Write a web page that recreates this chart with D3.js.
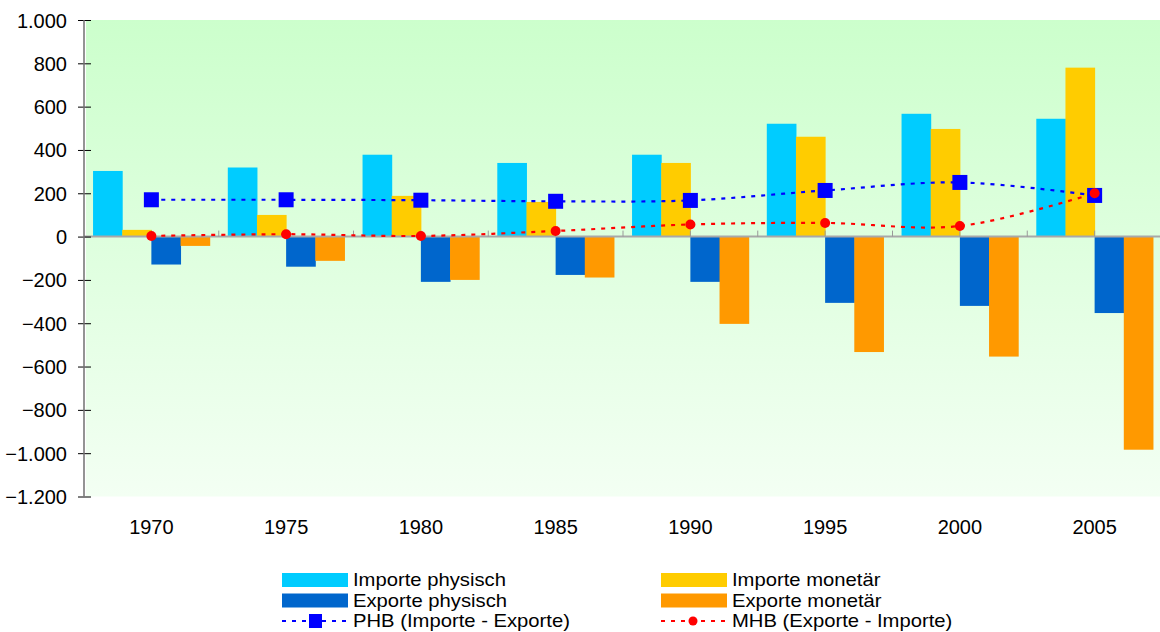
<!DOCTYPE html>
<html>
<head>
<meta charset="utf-8">
<script src="https://cdn.jsdelivr.net/npm/d3@7"></script>
<style>
  html, body { margin: 0; padding: 0; background: #fff; }
  svg { display: block; font-family: "Liberation Sans", Arial, sans-serif; }
</style>
</head>
<body>
<svg id="chart" width="1160" height="632"></svg>
<script>
// Jahre (Kategorien)
const years = ["1970", "1975", "1980", "1985", "1990", "1995", "2000", "2005"];

// Balkenreihen
const importePhysisch = [303, 319, 378, 340, 378, 521, 567, 544];
const importeMonetaer = [31, 100, 188, 160, 340, 461, 497, 780];
const exportePhysisch = [-129, -139, -209, -177, -209, -306, -320, -353];
const exporteMonetaer = [-43, -112, -200, -189, -403, -533, -554, -984];

// Linienreihen (Bilanzen)
const phb = [170, 170, 168, 163, 167, 213, 250, 190];
const mhb = [3, 11, 3, 26, 56, 63, 49, 200];

// Achsenbeschriftungen der y-Achse
const yTicks = [1000, 800, 600, 400, 200, 0, -200, -400, -600, -800, -1000, -1200];

const barSeries = [
  { name: "Importe physisch", values: importePhysisch, color: "#00ccff" },
  { name: "Importe monetär", values: importeMonetaer, color: "#ffcc00" },
  { name: "Exporte physisch", values: exportePhysisch, color: "#0066cc" },
  { name: "Exporte monetär", values: exporteMonetaer, color: "#ff9900" }
];

const svg = d3.select("#chart");
const fmt = v => d3.format(",")(v).replace(/,/g, ".");

const plotLeft = 84, plotRight = 1162, plotTop = 20, plotBottom = 496.5;

const y = d3.scaleLinear().domain([-1200, 1000]).range([plotBottom, plotTop]);
const x0 = d3.scaleBand().domain(years).range([plotLeft, plotRight]).padding(0);
const x1 = d3.scaleBand().domain(barSeries.map(s => s.name))
  .range([0, x0.bandwidth()]).paddingInner(0).paddingOuter(0.31);

// Hintergrund mit Farbverlauf
const defs = svg.append("defs");
const grad = defs.append("linearGradient").attr("id", "bg").attr("x1", 0).attr("y1", 0).attr("x2", 0).attr("y2", 1);
grad.append("stop").attr("offset", "0%").attr("stop-color", "#ccffcc");
grad.append("stop").attr("offset", "100%").attr("stop-color", "#f3fff3");

svg.append("rect")
  .attr("x", plotLeft + 2).attr("y", plotTop)
  .attr("width", 1160 - plotLeft - 2).attr("height", plotBottom - plotTop)
  .attr("fill", "url(#bg)");

// Balken
const groups = svg.append("g").selectAll("g")
  .data(barSeries).join("g").attr("fill", d => d.color);

groups.selectAll("rect")
  .data(s => s.values.map((v, i) => ({ s, v, year: years[i] })))
  .join("rect")
  .attr("x", d => x0(d.year) + x1(d.s.name))
  .attr("width", x1.bandwidth() + 0.5)
  .attr("y", d => y(Math.max(0, d.v)))
  .attr("height", d => Math.abs(y(d.v) - y(0)));

// Nulllinie mit Kategorie-Teilstrichen
svg.append("line")
  .attr("x1", plotLeft).attr("x2", 1160)
  .attr("y1", y(0)).attr("y2", y(0))
  .attr("stroke", "#a8a8a8").attr("stroke-width", 2);

const catTicks = [];
years.forEach(yr => {
  catTicks.push(x0(yr) + x0.bandwidth());
  catTicks.push(x0(yr) + x0.bandwidth() / 2);
});
svg.append("g").selectAll("line")
  .data(catTicks.filter(t => t < 1160))
  .join("line")
  .attr("x1", d => d).attr("x2", d => d)
  .attr("y1", y(0) - 6).attr("y2", y(0))
  .attr("stroke", "#999").attr("stroke-width", 1);

// y-Achse
const yAxis = d3.axisLeft(y).tickValues(yTicks).tickFormat(fmt).tickSize(0).tickPadding(0);
const ya = svg.append("g").attr("transform", `translate(${plotLeft},0)`).call(yAxis);
ya.select(".domain").remove();
ya.selectAll(".tick text")
  .attr("x", -17).attr("dy", "0.35em")
  .attr("font-size", 20).attr("font-family", "Liberation Sans, Arial, sans-serif")
  .attr("fill", "#000");
ya.selectAll(".tick").append("line")
  .attr("x1", -6).attr("x2", 7).attr("stroke", "#000").attr("stroke-width", 1);
svg.append("line")
  .attr("x1", plotLeft).attr("x2", plotLeft)
  .attr("y1", plotTop).attr("y2", plotBottom)
  .attr("stroke", "#707070").attr("stroke-width", 1.5);

// x-Beschriftungen
const xAxis = d3.axisBottom(x0).tickSize(0).tickPadding(0);
const xa = svg.append("g").attr("transform", `translate(0,${plotBottom})`).call(xAxis);
xa.select(".domain").remove();
xa.selectAll(".tick text")
  .attr("y", 37).attr("dy", 0)
  .attr("font-size", 20).attr("font-family", "Liberation Sans, Arial, sans-serif")
  .attr("fill", "#000");

// Linien (geglättet, gestrichelt)
const cx = i => x0(years[i]) + x0.bandwidth() / 2;
const line = d3.line().x((d, i) => cx(i)).y(d => y(d)).curve(d3.curveCatmullRom.alpha(0.5));

svg.append("path").datum(phb).attr("d", line)
  .attr("fill", "none").attr("stroke", "#0000ff").attr("stroke-width", 2.2)
  .attr("stroke-dasharray", "4,6");
svg.append("path").datum(mhb).attr("d", line)
  .attr("fill", "none").attr("stroke", "#ff0000").attr("stroke-width", 2.2)
  .attr("stroke-dasharray", "4,6");

svg.append("g").selectAll("rect").data(phb).join("rect")
  .attr("x", (d, i) => cx(i) - 7.5).attr("y", d => y(d) - 7.5)
  .attr("width", 15).attr("height", 15).attr("fill", "#0000ff");
svg.append("g").selectAll("circle").data(mhb).join("circle")
  .attr("cx", (d, i) => cx(i)).attr("cy", d => y(d)).attr("r", 5)
  .attr("fill", "#ff0000");

// Legende
const legendItems = [
  { name: "Importe physisch", type: "bar", color: "#00ccff", col: 0, row: 0 },
  { name: "Importe monetär", type: "bar", color: "#ffcc00", col: 1, row: 0 },
  { name: "Exporte physisch", type: "bar", color: "#0066cc", col: 0, row: 1 },
  { name: "Exporte monetär", type: "bar", color: "#ff9900", col: 1, row: 1 },
  { name: "PHB (Importe - Exporte)", type: "square", color: "#0000ff", col: 0, row: 2 },
  { name: "MHB (Exporte - Importe)", type: "circle", color: "#ff0000", col: 1, row: 2 }
];
const colX = [282, 661];
const rowY = [580, 600.5, 621];

const leg = svg.append("g").selectAll("g").data(legendItems).join("g")
  .attr("transform", d => `translate(${colX[d.col]},${rowY[d.row]})`);

leg.filter(d => d.type === "bar").append("rect")
  .attr("x", 0).attr("y", -7).attr("width", 66).attr("height", 14)
  .attr("fill", d => d.color);
leg.filter(d => d.type !== "bar").append("line")
  .attr("x1", 0).attr("x2", 66).attr("y1", 0).attr("y2", 0)
  .attr("stroke", d => d.color).attr("stroke-width", 2)
  .attr("stroke-dasharray", "4,6");
leg.filter(d => d.type === "square").append("rect")
  .attr("x", 27).attr("y", -7).attr("width", 13).attr("height", 14)
  .attr("fill", d => d.color);
leg.filter(d => d.type === "circle").append("circle")
  .attr("cx", 32).attr("cy", 0).attr("r", 4.5)
  .attr("fill", d => d.color);
// Legendentexte: etwas breiter laufende Schrift
leg.append("text")
  .attr("transform", "translate(71,6.3) scale(1.15,1)")
  .attr("font-size", 17.6)
  .attr("fill", "#000")
  .text(d => d.name);
</script>
</body>
</html>
